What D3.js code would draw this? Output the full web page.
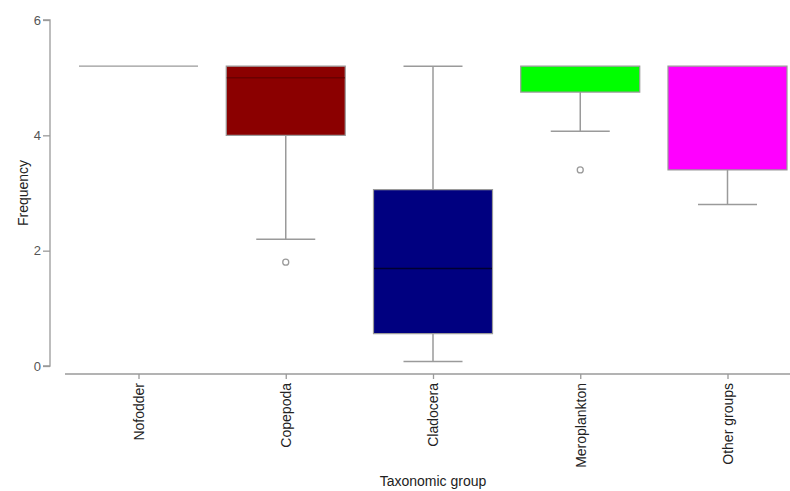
<!DOCTYPE html>
<html><head><meta charset="utf-8">
<script src="https://cdn.jsdelivr.net/npm/d3@7"></script>
<style>body{margin:0;background:#fff}svg{display:block;font-family:"Liberation Sans",Arial,sans-serif}</style>
</head><body><svg id="c" width="790" height="491"></svg>
<script>
const categories = ["Nofodder","Copepoda","Cladocera","Meroplankton","Other groups"];
const colors = ["#8B0000","#8B0000","#000080","#00FF00","#FF00FF"];
const medianColors = ["#999999","#6a0000","#000030","#00FF00","#FF00FF"];
const whiskerLow = [5.2, 2.2, 0.08, 4.07, 2.8];
const q1 = [5.2, 4.0, 0.56, 4.75, 3.4];
const median = [5.2, 5.0, 1.69, 5.2, 5.2];
const q3 = [5.2, 5.2, 3.06, 5.2, 5.2];
const whiskerHigh = [5.2, 5.2, 5.2, 5.2, 5.2];
const outliers = [[], [1.8], [], [3.4], []];
const yTicks = [0, 2, 4, 6];

const svg = d3.select("#c");
const y = d3.scaleLinear().domain([0, 6]).range([366, 20]);
const x = d3.scalePoint().domain(categories).range([138.5, 727.5]);
const boxW = 119, capW = 59;
const grey = "#9a9a9a";

// Y axis
const yAxis = svg.append("g").attr("transform", "translate(50,0)")
  .call(d3.axisLeft(y).tickValues(yTicks).tickSize(7).tickPadding(2).tickFormat(d3.format("d")));
yAxis.select(".domain").attr("stroke", grey).attr("stroke-width", 1.3).attr("d", `M-7,${y(6)}H0V${y(0)}H-7`);
yAxis.selectAll(".tick line").attr("stroke", grey).attr("stroke-width", 1.3);
yAxis.selectAll(".tick text").attr("font-size", 13).attr("fill", "#555").attr("font-family", "Liberation Sans, Arial");

// X axis
const xAxis = svg.append("g").attr("transform", "translate(0,374)")
  .call(d3.axisBottom(x).tickSize(5).tickPadding(4));
xAxis.select(".domain").attr("stroke", grey).attr("stroke-width", 1.3).attr("d", "M65,0H790");
xAxis.selectAll(".tick line").attr("stroke", grey).attr("stroke-width", 1.3);
xAxis.selectAll(".tick text").attr("font-size", 14).attr("fill", "#222")
  .attr("font-family", "Liberation Sans, Arial")
  .attr("transform", "rotate(-90)").attr("text-anchor", "end")
  .attr("x", -9).attr("y", 0).attr("dy", "0.35em");

// Titles
svg.append("text").attr("x", 433).attr("y", 486).attr("text-anchor", "middle")
  .attr("font-size", 14).attr("fill", "#222").text("Taxonomic group");
svg.append("text").attr("transform", "translate(23,193) rotate(-90)").attr("text-anchor", "middle")
  .attr("dy", "0.35em").attr("font-size", 14).attr("fill", "#222").text("Frequency");

// Boxes
const g = svg.append("g");
categories.forEach((c, i) => {
  const cx = x(c);
  if (whiskerHigh[i] > q3[i]) {
    g.append("line").attr("x1", cx).attr("x2", cx).attr("y1", y(q3[i])).attr("y2", y(whiskerHigh[i])).attr("stroke", grey).attr("stroke-width", 1.5);
    g.append("line").attr("x1", cx - capW/2).attr("x2", cx + capW/2).attr("y1", y(whiskerHigh[i])).attr("y2", y(whiskerHigh[i])).attr("stroke", grey).attr("stroke-width", 1.5);
  }
  if (whiskerLow[i] < q1[i]) {
    g.append("line").attr("x1", cx).attr("x2", cx).attr("y1", y(q1[i])).attr("y2", y(whiskerLow[i])).attr("stroke", grey).attr("stroke-width", 1.5);
    g.append("line").attr("x1", cx - capW/2).attr("x2", cx + capW/2).attr("y1", y(whiskerLow[i])).attr("y2", y(whiskerLow[i])).attr("stroke", grey).attr("stroke-width", 1.5);
  }
  const x0 = cx - boxW/2, x1 = cx + boxW/2;
  g.append("path").attr("d", `M${x0},${y(q3[i])}H${x1}V${y(q1[i])}H${x0}Z`)
    .attr("fill", colors[i]).attr("stroke", grey).attr("stroke-width", 1.2);
  if (median[i] < q3[i] && median[i] > q1[i]) {
    g.append("line").attr("x1", x0 + 0.6).attr("x2", x1 - 0.6).attr("y1", y(median[i])).attr("y2", y(median[i]))
      .attr("stroke", medianColors[i]).attr("stroke-width", 1.5);
  }
  outliers[i].forEach(o => {
    g.append("circle").attr("cx", cx).attr("cy", y(o)).attr("r", 3)
      .attr("fill", "#fff").attr("stroke", grey).attr("stroke-width", 1.3);
  });
});
</script></body></html>
